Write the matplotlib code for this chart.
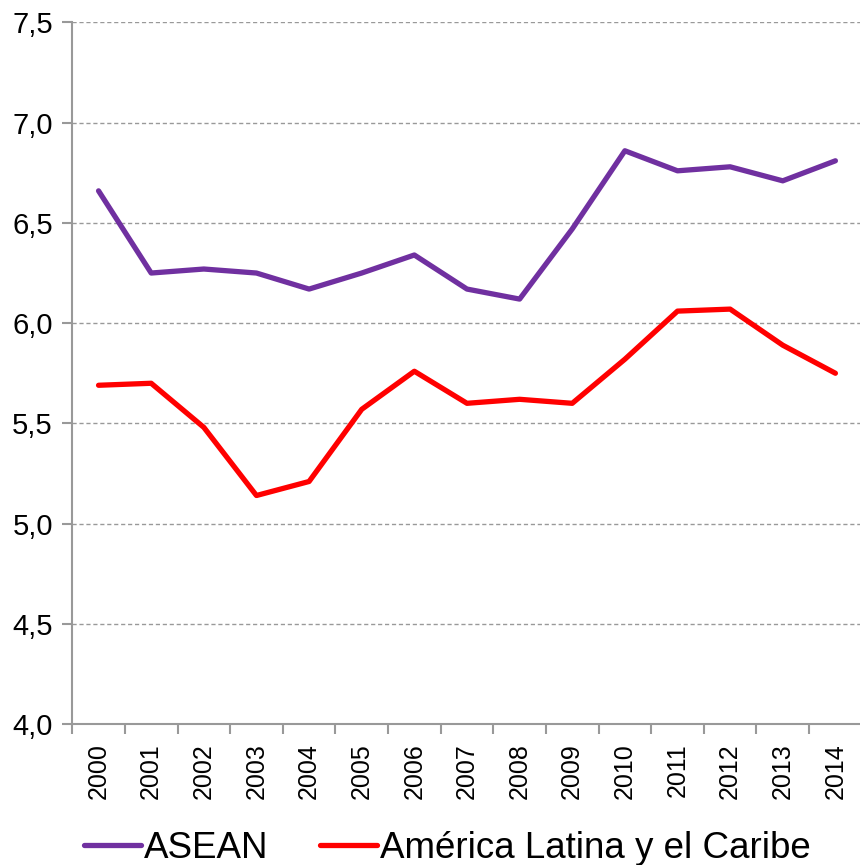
import matplotlib
matplotlib.use("Agg")
import matplotlib.pyplot as plt
import numpy as np
from matplotlib.ticker import FixedLocator, FuncFormatter

plt.rcParams['font.family'] = ['Liberation Sans', 'DejaVu Sans']

years = ["2000", "2001", "2002", "2003", "2004", "2005", "2006", "2007",
         "2008", "2009", "2010", "2011", "2012", "2013", "2014"]
asean = [6.66, 6.25, 6.27, 6.25, 6.17, 6.25, 6.34, 6.17, 6.12, 6.47,
         6.86, 6.76, 6.78, 6.71, 6.81]
alc = [5.69, 5.70, 5.48, 5.14, 5.21, 5.57, 5.76, 5.60, 5.62, 5.60,
       5.82, 6.06, 6.07, 5.89, 5.75]

fig = plt.figure(figsize=(8.6, 8.65), dpi=100)
ax = fig.add_axes([0.084, 0.163, 0.918, 0.811])

x = np.arange(len(years))
ax.plot(x, asean, color='#7030A0', lw=3.8, label='ASEAN', solid_capstyle='round')
ax.plot(x, alc, color='#FF0000', lw=3.8, label='América Latina y el Caribe', solid_capstyle='round')

ax.set_xlim(-0.5, len(years) - 0.5)
ax.set_ylim(4.0, 7.5)
ax.set_yticks(np.arange(4.0, 7.51, 0.5))
ax.yaxis.set_major_formatter(FuncFormatter(lambda v, p: f"{v:.1f}".replace('.', ',')))
ax.grid(axis='y', color='#999999', linestyle=(0, (3, 2)), lw=1)
ax.set_axisbelow(True)

ax.set_xticks(x)
ax.set_xticklabels(years, rotation=90, fontsize=18)
ax.tick_params(axis='x', which='major', length=0, pad=14)
ax.xaxis.set_minor_locator(FixedLocator(np.arange(-0.5, len(years), 1.0)))
ax.tick_params(axis='x', which='minor', length=7, width=1.5, color='#999999', direction='out')
ax.tick_params(axis='y', labelsize=21, length=7, width=1.5, color='#999999', pad=7)

for s in ['top', 'right']:
    ax.spines[s].set_visible(False)
for s in ['left', 'bottom']:
    ax.spines[s].set_color('#999999')
    ax.spines[s].set_linewidth(1.5)

leg = fig.legend(loc='lower center', bbox_to_anchor=(0.52, -0.039), ncol=2, frameon=False,
                 fontsize=26.5, handlelength=1.55, handletextpad=0.08, columnspacing=1.4)

fig.savefig('out.png', dpi=100)
